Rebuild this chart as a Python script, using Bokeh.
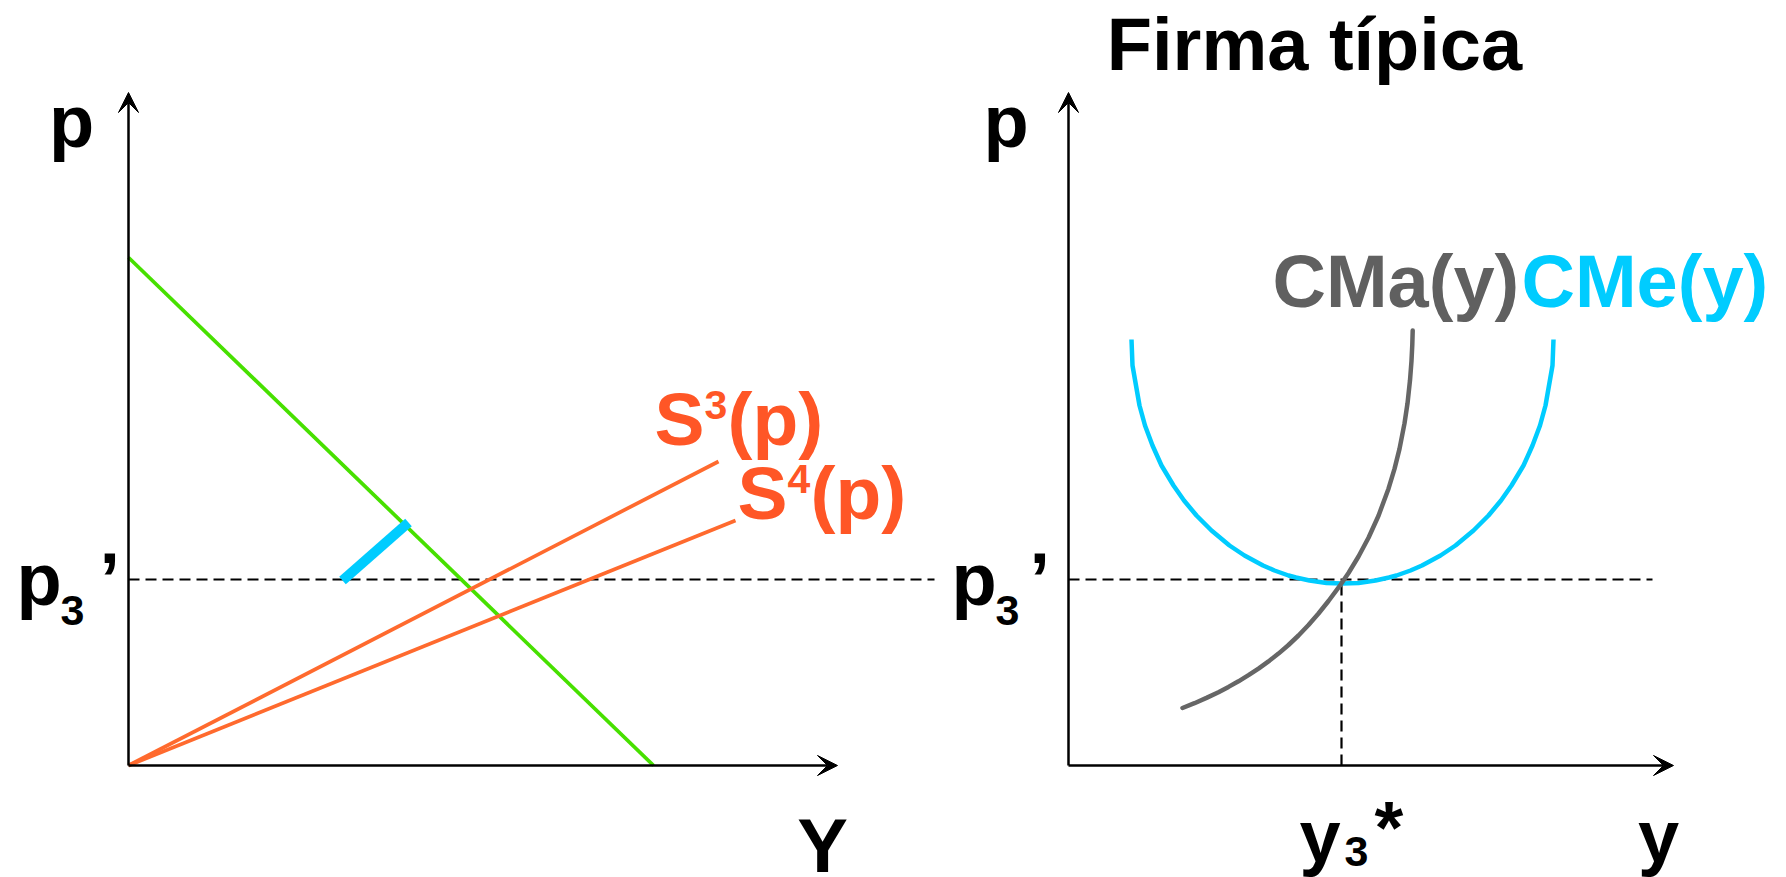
from bokeh.plotting import figure
from bokeh.models import Range1d, Arrow, VeeHead
from bokeh.core.properties import value
from bokeh.embed import file_html
from bokeh.resources import INLINE

# ---------------- data (conceptual units) ----------------
# Left panel: market
demand_Y = [0.0, 52.5]
demand_p = [50.8, 0.0]
s3_Y = [0.0, 59.0]
s3_p = [0.0, 30.4]
s4_Y = [0.0, 60.7]
s4_p = [0.0, 24.5]
shift_Y = [21.4, 28.0]
shift_p = [18.5, 24.3]
p3_price = 18.6
market_dash_end = 80.6

# Right panel: typical firm
cme_y = [6.3, 6.4, 7.1, 7.65, 8.4, 9.3, 10.5, 11.55, 12.8, 14.3, 16.1, 17.6, 19.45, 20.6,
         22.0, 22.75, 24.1, 25.8, 27.4, 29.0, 30.7, 32.05, 32.8, 34.2, 35.35, 37.2, 38.7,
         40.5, 42.0, 43.25, 44.3, 45.5, 46.4, 47.15, 47.7, 48.4, 48.5]
cme_p = [42.6, 40.0, 36.0, 34.0, 32.0, 30.0, 28.0, 26.5, 25.0, 23.5, 22.0, 21.0, 20.0, 19.5,
         19.0, 18.8, 18.5, 18.25, 18.2, 18.25, 18.5, 18.8, 19.0, 19.5, 20.0, 21.0, 22.0,
         23.5, 25.0, 26.5, 28.0, 30.0, 32.0, 34.0, 36.0, 40.0, 42.6]
cma_y = [11.4, 12.6, 13.8, 15.0, 16.0, 17.0, 18.0, 19.0, 20.0, 21.0, 22.0, 23.0, 24.0, 25.0,
         26.0, 27.2, 28.0, 29.0, 30.0, 31.0, 32.0, 32.6, 33.1, 33.6, 33.9, 34.15, 34.3, 34.38, 34.42]
cma_p = [5.75, 6.23, 6.76, 7.33, 7.86, 8.42, 9.03, 9.69, 10.41, 11.19, 12.05, 13.0, 14.05, 15.2,
         16.45, 18.07, 19.25, 20.9, 22.78, 24.98, 27.68, 29.66, 31.66, 34.21, 36.21, 38.52,
         40.47, 42.1, 43.5]
y3_star = 27.3
firm_dash_end = 58.4

axis_p_top = 67.3
market_Y_end = 70.9
firm_y_end = 60.5

FONT = value("Liberation Sans")
ORANGE_LINE = "#FF6A2E"
ORANGE_TXT = "#FF5626"
GREEN = "#47E000"
CYAN = "#00CCFF"
GRAY = "#666666"

p = figure(width=1786, height=877, output_backend="svg", toolbar_location=None,
           x_range=Range1d(-12.8, 165.8), y_range=Range1d(-11.2, 76.5),
           x_axis_type=None, y_axis_type=None, min_border=0,
           outline_line_color=None, background_fill_color="white")
p.extra_x_ranges = {"firm": Range1d(-106.8, 71.8)}


def axis_arrow(x0, y0, x1, y1, rng="default"):
    p.add_layout(Arrow(x_start=x0, y_start=y0, x_end=x1, y_end=y1, line_width=2.5,
                       line_color="black", x_range_name=rng,
                       end=VeeHead(size=20, fill_color="black", line_color="black", line_width=1)))


def label(x, y, txt, size, color="black", align="left", rng="default"):
    # y is the wanted baseline; shift for the renderer's baseline placement
    p.text(x=[x], y=[y + 0.0346 * size], text=[txt], text_font=FONT, text_font_style="bold",
           text_font_size=f"{size}px", text_color=color, text_align=align,
           text_baseline="alphabetic", x_range_name=rng)


# ---------------- left panel ----------------
axis_arrow(0, 0, 0, axis_p_top)
axis_arrow(0, 0, market_Y_end, 0)
p.line([0, market_dash_end], [p3_price, p3_price], line_color="black", line_width=2.2, line_dash="11 6")
p.line(demand_Y, demand_p, line_color=GREEN, line_width=3.7)
p.line(s3_Y, s3_p, line_color=ORANGE_LINE, line_width=3.7)
p.line(s4_Y, s4_p, line_color=ORANGE_LINE, line_width=3.7)
p.line(shift_Y, shift_p, line_color=CYAN, line_width=10, line_cap="butt")

label(-5.7, 61.85, "p", 74, align="center")
label(-11.2, 16.0, "p", 74)
label(-6.8, 14.0, "3", 43)
label(-2.9, 16.0, "\u2019", 74)
label(69.4, -10.6, "Y", 76, align="center")
label(52.6, 32.1, "S", 75, ORANGE_TXT)
label(57.6, 34.6, "3", 41, ORANGE_TXT)
label(59.9, 32.1, "(p)", 75, ORANGE_TXT)
label(60.9, 24.7, "S", 75, ORANGE_TXT)
label(65.9, 27.2, "4", 41, ORANGE_TXT)
label(68.2, 24.7, "(p)", 75, ORANGE_TXT)

# ---------------- right panel ----------------
R = "firm"
axis_arrow(0, 0, 0, axis_p_top, R)
axis_arrow(0, 0, firm_y_end, 0, R)
p.line([0, firm_dash_end], [p3_price, p3_price], line_color="black", line_width=2.2,
       line_dash="11 6", x_range_name=R)
p.line([y3_star, y3_star], [0, p3_price], line_color="black", line_width=2.2,
       line_dash="11 6", x_range_name=R)
p.line(cme_y, cme_p, line_color=CYAN, line_width=4.5, line_join="round", x_range_name=R)
p.line(cma_y, cma_p, line_color=GRAY, line_width=4.5, line_join="round", line_cap="round",
       x_range_name=R)

label(24.6, 69.5, "Firma t\u00edpica", 74, align="center", rng=R)
label(-6.25, 61.85, "p", 74, align="center", rng=R)
label(-11.7, 16.0, "p", 74, rng=R)
label(-7.3, 14.0, "3", 43, rng=R)
label(-3.9, 16.0, "\u2019", 74, rng=R)
label(20.4, 45.8, "CMa(y)", 74, "#606060", rng=R)
label(45.3, 45.8, "CMe(y)", 74, CYAN, rng=R)
label(23.1, -9.7, "y", 74, rng=R)
label(27.6, -10.1, "3", 43, rng=R)
label(30.6, -8.8, "*", 74, rng=R)
label(59.0, -9.7, "y", 74, align="center", rng=R)

open("out.html", "w").write(file_html(p, INLINE))
